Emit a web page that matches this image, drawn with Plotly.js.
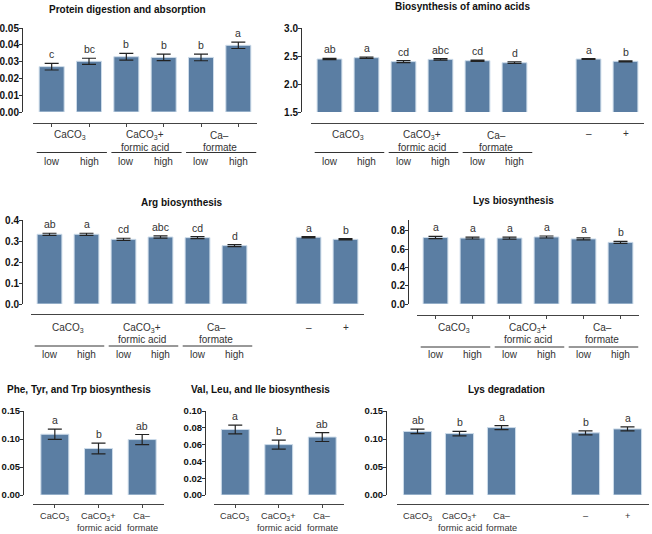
<!DOCTYPE html>
<html><head><meta charset="utf-8">
<script src="https://cdn.plot.ly/plotly-3.0.1.min.js"></script>
<style>html,body{margin:0;padding:0;background:#fff}</style>
</head><body><div id="chart" style="width:652px;height:534px"></div>
<script>
// ---------- data ----------
const sourceGroups = ['CaCO<sub>3</sub>', 'CaCO<sub>3</sub>+<br>formic acid', 'Ca–<br>formate'];
const levels = ['low', 'high'];
const limeLabels = ['–', '+'];

const proteinVals = [0.0270, 0.0302, 0.0329, 0.0325, 0.0325, 0.0397];
const proteinErr  = [0.0020, 0.0018, 0.0020, 0.0019, 0.0020, 0.0019];
const proteinLet  = ['c', 'bc', 'b', 'b', 'b', 'a'];

const aaVals = [2.446, 2.470, 2.400, 2.440, 2.416, 2.380, 2.446, 2.405];
const aaErr  = [0.012, 0.012, 0.018, 0.014, 0.012, 0.014, 0.008, 0.010];
const aaLet  = ['ab', 'a', 'cd', 'abc', 'cd', 'd', 'a', 'b'];

const argVals = [0.332, 0.332, 0.308, 0.319, 0.316, 0.278, 0.318, 0.308];
const argErr  = [0.005, 0.005, 0.005, 0.005, 0.005, 0.005, 0.003, 0.003];
const argLet  = ['ab', 'a', 'cd', 'abc', 'cd', 'd', 'a', 'b'];

const lysVals = [0.728, 0.722, 0.722, 0.734, 0.713, 0.675];
const lysErr  = [0.012, 0.010, 0.011, 0.011, 0.011, 0.010];
const lysLet  = ['a', 'a', 'a', 'a', 'a', 'b'];

const pheVals = [0.1085, 0.0830, 0.0990];
const pheErr  = [0.0090, 0.0095, 0.0090];
const pheLet  = ['a', 'b', 'ab'];

const valVals = [0.0780, 0.0600, 0.0690];
const valErr  = [0.0053, 0.0053, 0.0053];
const valLet  = ['a', 'b', 'ab'];

const lysDegVals = [0.1135, 0.1097, 0.1204, 0.1110, 0.1180];
const lysDegErr  = [0.0040, 0.0040, 0.0035, 0.0035, 0.0035];
const lysDegLet  = ['ab', 'b', 'a', 'b', 'a'];

// ---------- layout helpers ----------
const W = 652, H = 534;
const FONT = 'Liberation Sans, Arial, sans-serif';
const px2x = p => p / W;
const px2y = p => 1 - p / H;

const panels = [
  {title:'Protein digestion and absorption', tx:127, ty:9, vals:proteinVals, errs:proteinErr, lets:proteinLet,
   kind:'six', xd:[33,257], yd:[28,112], yPos:22, xLine:123, yr:[0,0.05], dt:0.01, fmt:'.2f', ticks:true,
   rows:{g1:135, g2:147, ul:152.5, lv:161.5}, bw:0.67, lf:10, tf:10},
  {title:'Biosynthesis of amino acids', tx:462, ty:6, vals:aaVals, errs:aaErr, lets:aaLet,
   kind:'sixPM', xd:[311,644], yd:[28,112], yPos:301, xLine:123, yr:[1.5,3.0], dt:0.5, fmt:'.1f', ticks:false,
   rows:{g1:135, g2:147, ul:152.5, lv:161.5, pm:133}, bw:0.67, lf:10, tf:10},
  {title:'Arg biosynthesis', tx:182, ty:202, vals:argVals, errs:argErr, lets:argLet,
   kind:'sixPM', xd:[31,364], yd:[220,304], yPos:22, xLine:314, yr:[0,0.4], dt:0.1, fmt:'.1f', ticks:false,
   rows:{g1:328, g2:339, ul:346, lv:354, pm:327}, bw:0.67, lf:10, tf:10},
  {title:'Lys biosynthesis', tx:513, ty:200, vals:lysVals, errs:lysErr, lets:lysLet,
   kind:'six', xd:[417,639], yd:[220,304], yPos:408, xLine:315, yr:[0,0.92], dt:0.2, fmt:'.1f', ticks:true,
   rows:{g1:328, g2:339, ul:347, lv:354}, bw:0.67, lf:10, tf:10},
  {title:'Phe, Tyr, and Trp biosynthesis', tx:79, ty:389, vals:pheVals, errs:pheErr, lets:pheLet,
   kind:'three', xd:[33,164], yd:[411,495], yPos:23, xLine:504, yr:[0,0.15], dt:0.05, fmt:'.2f', ticks:true,
   rows:{g1:516, g2:528}, bw:0.64, lf:9.2, tf:9.5},
  {title:'Val, Leu, and Ile biosynthesis', tx:260, ty:389, vals:valVals, errs:valErr, lets:valLet,
   kind:'three', xd:[213.5,344], yd:[411,495], yPos:205, xLine:504, yr:[0,0.10], dt:0.02, fmt:'.2f', ticks:true,
   rows:{g1:516, g2:528}, bw:0.64, lf:9.2, tf:9.5},
  {title:'Lys degradation', tx:506, ty:389, vals:lysDegVals, errs:lysDegErr, lets:lysDegLet,
   kind:'threePM', xd:[396.5,648.5], yd:[411,495], yPos:386, xLine:504, yr:[0,0.15], dt:0.05, fmt:'.2f', ticks:false,
   rows:{g1:516, g2:528, pm:516}, bw:0.67, lf:9.2, tf:9.5}
];

function xPos(kind, i) {
  if (kind === 'sixPM') return i < 6 ? i : i + 1;
  if (kind === 'threePM') return i < 3 ? i : i + 1;
  return i;
}
function xRange(kind) {
  if (kind === 'six' || kind === 'threePM') return [-0.5, 5.5];
  if (kind === 'sixPM') return [-0.5, 8.5];
  return [-0.5, 2.5];
}

const traces = [];
const layout = {
  width: W, height: H, margin: {l:0, r:0, t:0, b:0},
  paper_bgcolor: '#fff', plot_bgcolor: 'rgba(0,0,0,0)',
  showlegend: false, font: {family: FONT, color: '#333', size: 10},
  annotations: [], shapes: []
};

panels.forEach((p, n) => {
  const sfx = n === 0 ? '' : String(n + 1);
  const xa = 'x' + sfx, ya = 'y' + sfx;
  const xs = p.vals.map((v, i) => xPos(p.kind, i));
  const lblFont = {family: FONT, size: p.lf, color: '#333'};
  traces.push({
    type: 'bar', x: xs, y: p.vals, xaxis: xa, yaxis: ya, width: p.bw,
    marker: {color: '#5b7ea3', line: {color: '#cddcea', width: 1}},
    error_y: {type: 'data', array: p.errs, visible: true, color: '#222', thickness: 1.2, width: 7},
    hoverinfo: 'skip'
  });
  layout['xaxis' + sfx] = {
    domain: [px2x(p.xd[0]), px2x(p.xd[1])], range: xRange(p.kind),
    anchor: 'free', position: px2y(p.xLine),
    showline: true, linecolor: '#444', linewidth: 1, showgrid: false, zeroline: false,
    ticks: p.ticks ? 'outside' : '', ticklen: 3, tickwidth: 1, tickcolor: '#444',
    tickmode: 'array', tickvals: p.ticks ? xs : [], showticklabels: false, fixedrange: true
  };
  layout['yaxis' + sfx] = {
    domain: [px2y(p.yd[1]), px2y(p.yd[0])], range: p.yr,
    anchor: 'free', position: px2x(p.yPos),
    showline: true, linecolor: '#333', linewidth: 1, showgrid: false, zeroline: false,
    ticks: 'outside', ticklen: 3, tickwidth: 1, tickcolor: '#333', ticklabelstandoff: -2,
    tick0: p.yr[0], dtick: p.dt, tickformat: p.fmt,
    tickfont: {family: FONT, size: p.tf, color: '#111', weight: 'bold'}, fixedrange: true
  };
  // title
  layout.annotations.push({xref:'paper', yref:'paper', x:px2x(p.tx), y:px2y(p.ty), xanchor:'center', yanchor:'middle',
    text:'<b>' + p.title + '</b>', showarrow:false, font:{family: FONT, size: 10, color: '#111'}});
  // significance letters
  p.vals.forEach((v, i) => {
    layout.annotations.push({xref: xa, yref: ya, x: xs[i], y: v + p.errs[i], xanchor:'center', yanchor:'bottom',
      yshift: 1, text: p.lets[i], showarrow: false, font: {family: FONT, size: 10.5, color: '#333'}});
  });
  // category labels
  if (p.kind === 'six' || p.kind === 'sixPM') {
    sourceGroups.forEach((g, k) => {
      const lines = g.split('<br>');
      lines.forEach((ln, j) => {
        layout.annotations.push({xref: xa, yref:'paper', x: 2*k + 0.5, y: px2y(j === 0 ? p.rows.g1 : p.rows.g2),
          xanchor:'center', yanchor:'middle', text: ln, showarrow:false, font: lblFont});
      });
      layout.shapes.push({type:'line', xref: xa, yref:'paper', x0: 2*k - 0.4, x1: 2*k + 1.48,
        y0: px2y(p.rows.ul), y1: px2y(p.rows.ul), line: {color:'#333', width:1}});
    });
    for (let i = 0; i < 6; i++) {
      layout.annotations.push({xref: xa, yref:'paper', x: i, y: px2y(p.rows.lv), xanchor:'center', yanchor:'middle',
        text: levels[i % 2], showarrow:false, font: lblFont});
    }
  } else {
    sourceGroups.forEach((g, k) => {
      const lines = g.split('<br>');
      lines.forEach((ln, j) => {
        layout.annotations.push({xref: xa, yref:'paper', x: k, y: px2y(j === 0 ? p.rows.g1 : p.rows.g2),
          xanchor:'center', yanchor:'middle', text: ln, showarrow:false, font: lblFont});
      });
    });
  }
  if (p.kind === 'sixPM' || p.kind === 'threePM') {
    const base = p.kind === 'sixPM' ? 6 : 3;
    limeLabels.forEach((t, j) => {
      layout.annotations.push({xref: xa, yref:'paper', x: xPos(p.kind, base + j), y: px2y(p.rows.pm),
        xanchor:'center', yanchor:'middle', text: t, showarrow:false, font: lblFont});
    });
  }
});

Plotly.newPlot('chart', traces, layout, {displayModeBar: false, staticPlot: true});
</script>
</body></html>
